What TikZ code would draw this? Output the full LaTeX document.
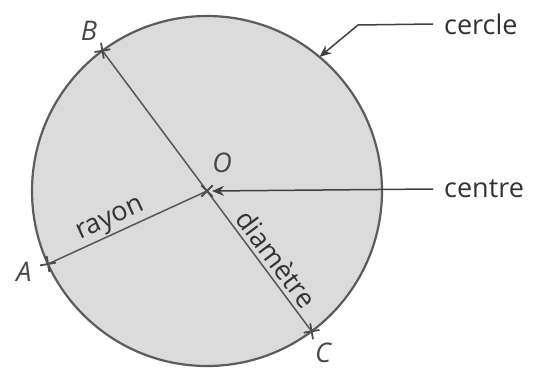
\documentclass[tikz,border=0pt]{standalone}
\usepackage{fontspec}
\setmainfont{Open Sans}
\usetikzlibrary{arrows.meta,calc}
\begin{document}
\begin{tikzpicture}[x=1pt,y=-1pt,
  lbl/.style={font=\fontsize{27}{31}\selectfont, text=black!80, inner sep=2pt},
  ptlbl/.style={font=\fontsize{27}{31}\selectfont\itshape, text=black!72, inner sep=0pt},
  seg/.style={draw=black!66, line width=1.5pt},
  ptr/.style={draw=black!75, line width=1.5pt, -{Stealth[length=12pt,width=10pt]}},
  crs/.style={draw=black!70, line width=1.8pt},
  xmark/.pic={\draw[crs] (-8,0) -- (8,0) (0,-8) -- (0,8);}]
\useasboundingbox (0,0) rectangle (540,369);
\coordinate (O) at (207,191);
\node[circle, minimum size=350pt, inner sep=0pt, outer sep=0pt, fill=black!14, draw=black!64, line width=2.2pt] (circ) at (O) {};
\coordinate (A) at (48,264);
\coordinate (B) at (102.4,50.7);
\coordinate (C) at (311.6,331.3);
\draw[seg] (B) -- (C);
\draw[seg] (A) -- (O);
\pic[rotate=10] at (A) {xmark};
\pic[rotate=10] at (B) {xmark};
\pic[rotate=10] at (C) {xmark};
\pic[rotate=45] at (O) {xmark};
\node[ptlbl] (lA) at (24,272) {A};
\node[ptlbl] (lB) at (89,31) {B};
\node[ptlbl] (lC) at (323,353) {C};
\node[ptlbl] (lO) at (222,163) {O};
\node[lbl, rotate=24.6, anchor=south] (ray) at ($(A)!0.43!(O)$) {rayon};
\node[lbl, rotate=-53.3, anchor=south, inner sep=5pt] (dia) at ($(O)!0.55!(C)$) {diamètre};
\node[lbl, anchor=west, inner sep=0pt] (tcercle) at (444,24) {cercle};
\node[lbl, anchor=west, inner sep=0pt] (tcentre) at (444,189) {centre};
\coordinate (k) at (358,25);
\draw[ptr] ([xshift=-11pt]tcercle.west) -- (k) -- (circ.50);
\draw[ptr] ([xshift=-11pt]tcentre.west) -- ([xshift=5pt]O);
\end{tikzpicture}
\end{document}
